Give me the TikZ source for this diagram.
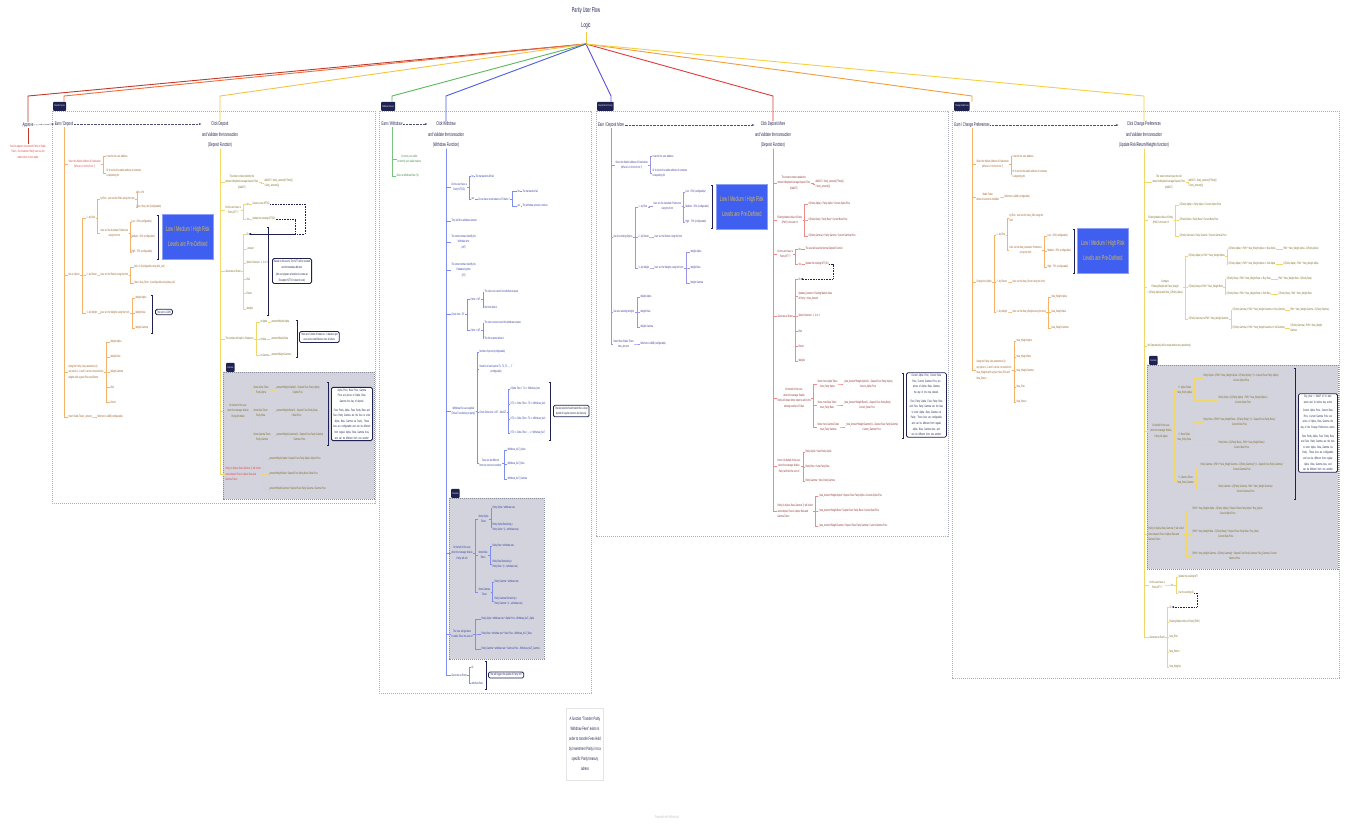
\documentclass[tikz,border=0pt]{standalone}
\usepackage{fontspec}
\setmainfont{Liberation Sans}[FakeStretch=0.55]
\usetikzlibrary{arrows.meta}
\definecolor{nv}{HTML}{1F2250}
\definecolor{orL}{HTML}{F6B26B}\definecolor{orT}{HTML}{9A5B22}
\definecolor{ylL}{HTML}{F1D66A}\definecolor{ylT}{HTML}{7A671C}
\definecolor{grL}{HTML}{7BC47F}\definecolor{grT}{HTML}{3C8A40}
\definecolor{blL}{HTML}{7F8CF2}\definecolor{blT}{HTML}{2F3C9E}
\definecolor{vtL}{HTML}{9B94E8}\definecolor{vtT}{HTML}{3D3A95}
\definecolor{rdL}{HTML}{F08A8A}\definecolor{rdT}{HTML}{8E2E2E}
\definecolor{redT}{HTML}{E0413F}
\definecolor{frm}{HTML}{A9AEC0}
\definecolor{ovf}{HTML}{D3D3DD}
\definecolor{bxf}{HTML}{3F5FF0}
\definecolor{bxt}{HTML}{D8B850}
\definecolor{f1}{HTML}{C0392B}\definecolor{f2}{HTML}{F26B3A}
\definecolor{f3}{HTML}{F4C542}\definecolor{f4}{HTML}{5CB85C}
\definecolor{f5}{HTML}{4A5CE0}\definecolor{f6}{HTML}{5B4FD6}
\definecolor{f7}{HTML}{E03A3A}\definecolor{f8}{HTML}{F39C3C}
\definecolor{f9}{HTML}{F4D03F}
\newcommand\fs{\fontsize{3.3}{5.6}\selectfont}
\newcommand\fh{\fontsize{5.3}{10.5}\selectfont}
\newcommand\lnk[3]{\draw[#1] (#2.east) -- ++(2,0) |- (#3.west);}
\newcommand\spn[3]{\draw[#1] (#2.south) |- (#3.west);}
\newcommand\mybr[3]{\draw[brk] (#1-1.5,#2) -- (#1,#2) -- (#1,#3) -- (#1-1.5,#3);}
\tikzset{
 tx/.style={font=\fs, inner sep=0.3pt, anchor=west, align=center},
 lf/.style={tx, align=left},
 hd/.style={font=\fh, text=nv, align=center, inner sep=0.5pt},
 frame/.style={draw=frm, line width=0.7pt, dash pattern=on 1.2pt off 0.8pt},
 ovbox/.style={fill=ovf, draw=frm!80!black, line width=0.6pt, dash pattern=on 1.2pt off 0.8pt},
 tab/.style={fill=nv, text=white, font=\fontsize{2.6}{3}\selectfont, inner sep=1.2pt, minimum height=9pt, rounded corners=0.8pt, anchor=south west},
 note/.style={draw=nv, line width=0.8pt, rounded corners=1.5pt, fill=white, font=\fs, text=nv, align=center, inner sep=1.5pt, anchor=west},
 bbox/.style={fill=bxf, draw=bxf!60!white, line width=0.6pt, text=bxt, font=\fontsize{7}{15}\selectfont, align=center, minimum width=51pt, minimum height=45pt, anchor=north west, inner sep=0pt},
 brk/.style={draw=nv, line width=0.5pt},
 dar/.style={draw=nv!80, line width=0.45pt, dash pattern=on 0.8pt off 0.6pt, -{Stealth[length=2.5pt,width=2pt]}},
 dn/.style={draw=nv, line width=0.5pt, dash pattern=on 1pt off 0.6pt, -{Stealth[length=2.5pt,width=2pt]}},
 fan/.style={line width=0.9pt},
 lo/.style={draw=orL, line width=0.5pt}, ly/.style={draw=ylL, line width=0.5pt},
 lg/.style={draw=grL, line width=0.5pt}, lb/.style={draw=blL, line width=0.5pt},
 lv/.style={draw=vtL, line width=0.5pt}, lr/.style={draw=rdL, line width=0.5pt},
 ot/.style={tx,text=orT}, ol/.style={lf,text=orT},
 yt/.style={tx,text=ylT}, yl/.style={lf,text=ylT},
 gt/.style={tx,text=grT},
 bt/.style={tx,text=blT}, bl/.style={lf,text=blT},
 vt/.style={tx,text=vtT}, vl/.style={lf,text=vtT},
 rt/.style={tx,text=rdT}, rl/.style={lf,text=rdT},
}
\begin{document}
\begin{tikzpicture}[x=1pt,y=-1pt]
\useasboundingbox[fill=white] (0,0) rectangle (1347,825);
% ---------- frames
\draw[frame] (52,111) rectangle (375,503);
\draw[frame] (379,111) rectangle (591,693);
\draw[frame] (596,111) rectangle (948,536);
\draw[frame] (952,111) rectangle (1339,678);
\draw[ovbox] (223,372) rectangle (374,499);
\draw[ovbox] (449,498) rectangle (544,659);
\draw[ovbox] (1147,365) rectangle (1338,569);
\node[tab] (tabD) at (53,111) {Deposit Process};
\node[tab] (tabW) at (381,111) {Withdraw Process};
\node[tab] (tabM) at (597,111) {Deposit More Process};
\node[tab] (tabC) at (954,111) {Change Preferences};
\node[tab] (ov1) at (226,372) {Overview};
\node[tab] (ov2) at (451,498) {Overview};
\node[tab] (ov4) at (1149,365) {Overview};
% ---------- title and headers
\node[font=\fontsize{7}{15}\selectfont, text=nv, align=center] (title) at (586,18) {Parity User Flow\\Logic};
\coordinate (apex) at (586,44);
\coordinate (lvl) at (0,96);
\node[hd] (app) at (28,125) {Approve};
\node[hd] (ed) at (64,124) {Earn / Deposit};
\node[hd] (cd) at (220,135) {Click Deposit\\and Validate the transaction\\(Deposit Function)};
\node[hd] (ew) at (392,124) {Earn / Withdraw};
\node[hd] (cw) at (446,135) {Click Withdraw\\and Validate the transaction\\(Withdraw Function)};
\node[hd] (em) at (611,125) {Earn / Deposit More};
\node[hd] (cm) at (773,135) {Click Deposit More\\and Validate the transaction\\(Deposit Function)};
\node[hd] (ec) at (972,125) {Earn / Change Preferences};
\node[hd] (cc) at (1144,135) {Click Change Preferences\\and Validate the transaction\\(Update Risk/Return/Weights function)};
% fan lines
\draw[fan,draw=f3] (title.south) -- (apex);
\draw[fan,draw=f1] (apex) -- (app.north |- lvl) -- (app.north);
\draw[fan,draw=f2] (apex) -- (ed.north |- lvl) -- (ed.north |- tabD.north);
\draw[fan,draw=f3] (apex) -- (cd.north |- lvl) -- (cd.north);
\draw[fan,draw=f4] (apex) -- (ew.north |- lvl) -- (ew.north |- tabW.north);
\draw[fan,draw=f5] (apex) -- (cw.north |- lvl) -- (cw.north);
\draw[fan,draw=f6] (apex) -- (em.north |- lvl) -- (em.north |- tabM.north);
\draw[fan,draw=f7] (apex) -- (cm.north |- lvl) -- (cm.north);
\draw[fan,draw=f8] (apex) -- (ec.north |- lvl) -- (ec.north |- tabC.north);
\draw[fan,draw=f9] (apex) -- (cc.north |- lvl) -- (cc.north);
% header arrows
\node[tx,text=redT,anchor=center] (appn) at (28,152) {Need to approve Investment Parity in Stable\\Token - So Investment Parity can use the\\stable token of your wallet};
\draw[draw=f1,line width=0.6pt] (app.south) -- (appn.north);
\draw[dar] (app.east) -- (ed.west);
\draw[dar] (ed.east) -- (ed.east -| cd.west);
\draw[dar] (ew.east) -- (ew.east -| cw.west);
\draw[dar] (em.east) -- (em.east -| cm.west);
\draw[dar] (ec.east) -- (ec.east -| cc.west);

% ================= DEPOSIT : left tree
\node[tx,text=redT] (s1) at (68,164) {Select the Wallet Address of Destination\\(Where is it for the front ?)};
\node[ol] (s1a) at (106,156) {It can be the user address};
\node[ol] (s1b) at (106,173) {Or It can be the wallet address of someone\\is depositing for};
\node[ot] (opt) at (68,275) {Set an Option};
\node[ot] (o1) at (86,218) {1 - by Risk};
\node[ot] (o2) at (86,275) {2 - by Return};
\node[ot] (o3) at (86,313) {3 - by Weight};
\node[ot] (o1a) at (100,199) {by Risk : user set the Risks using the front};
\node[ot] (o1b) at (100,233) {User set the Automatic Preference\\using the front};
\node[ol] (o1a1) at (136,192) {Min = 0\%};
\node[ol] (o1a2) at (136,207) {Max = Max\_risk (Configurable)};
\node[ol] (o1b1) at (131,222) {Low : 25\% (configurable)};
\node[ol] (o1b2) at (131,237) {Medium : 45\% (configurable)};
\node[ol] (o1b3) at (131,252) {High : 75\% (configurable)};
\node[ot] (o2a) at (100,275) {User set the Return using the front};
\node[ol] (o2a1) at (134,267) {Min = 0 (Configurable using Min\_risk)};
\node[ol] (o2a2) at (134,283) {Max = Max\_Risk + k (configurable using Max\_risk)};
\node[ot] (o3a) at (100,313) {User set the Weights using the front};
\node[ol] (o3a1) at (135,298) {Weight Alpha};
\node[ol] (o3a2) at (135,313) {Weight Beta};
\node[ol] (o3a3) at (135,328) {Weight Gamma};
\node[ol] (lam) at (68,372) {Using the Parity Line parameters (λ)\\any option 1, 2 and 3 can be converted into\\weights with a given Risk and Return};
\node[ol] (lam1) at (110,342) {Weight Alpha};
\node[ol] (lam2) at (110,357) {Weight Beta};
\node[ol] (lam3) at (110,372) {Weight Gamma};
\node[ol] (lam4) at (110,387) {Risk};
\node[ol] (lam5) at (110,402) {Return};
\node[ot] (ins) at (68,417) {Insert Stable Token \_amount};
\node[ol] (ins1) at (97,417) {Minimum is 100\$ (configurable)};
\foreach \c in {s1,opt,lam,ins} {\spn{lo}{ed}{\c}}
\foreach \c in {s1a,s1b} {\lnk{lo}{s1}{\c}}
\foreach \c in {o1,o2,o3} {\draw[lo] (opt.east) -- ++(2,0) |- (\c.west);}
\foreach \c in {o1a,o1b} {\lnk{lo}{o1}{\c}}
\foreach \c in {o1a1,o1a2} {\lnk{lo}{o1a}{\c}}
\foreach \c in {o1b1,o1b2,o1b3} {\lnk{lo}{o1b}{\c}}
\lnk{lo}{o2}{o2a}
\foreach \c in {o2a1,o2a2} {\lnk{lo}{o2a}{\c}}
\lnk{lo}{o3}{o3a}
\foreach \c in {o3a1,o3a2,o3a3} {\lnk{lo}{o3a}{\c}}
\foreach \c in {lam1,lam2,lam3,lam4,lam5} {\lnk{lo}{lam}{\c}}
\lnk{lo}{ins}{ins1}
\mybr{158}{215}{259}
\node[bbox] (bb1) at (162,214) {Low / Medium / High Risk\\Levels are Pre-Defined};
\mybr{152}{295}{333}
\node[note] (n100) at (155,312) {The sum is 100\%};

% ================= DEPOSIT : right tree
\node[yt] (c1) at (225,182) {The smart contract identify the\\Amount Weighted Average Deposit Time\\(AWADT)};
\node[yl] (c1a) at (264,183) {AWADT = Sum(\_amount(i)*Time(i))\\/ Sum(\_amount(i))};
\node[yt] (c2) at (225,210) {Do the user have a\\Parity NFT ?};
\node[yt] (c2a) at (246,204) {No};
\node[yt] (c2a2) at (252,204) {Create a new NFT(0)};
\node[yt] (c2b) at (246,219) {Yes};
\node[yt] (c2b2) at (252,219) {Update the existing NFT(ID)};
\node[yt] (c3) at (225,271) {Generate an Event};
\node[yl] (c3a) at (246,234) {ID};
\node[yl] (c3b) at (246,249) {\_amount};
\node[yl] (c3c) at (246,263) {Option Selected : 1, 2 or 3};
\node[yl] (c3d) at (246,279) {Risk};
\node[yl] (c3e) at (246,293) {Return};
\node[yl] (c3f) at (246,309) {Weights};
\node[yt] (c4) at (225,339) {The contract will split in 3 balances};
\node[yt] (c4a) at (260,322) {In Alpha};
\node[yt] (c4a2) at (270,322) {\_amount*Weight Alpha};
\node[yt] (c4b) at (260,339) {In Beta};
\node[yt] (c4b2) at (270,339) {\_amount*Weight Beta};
\node[yt] (c4c) at (260,355) {In Gamma};
\node[yt] (c4c2) at (270,355) {\_amount*Weight Gamma};
\node[yt] (c5) at (227,411) {On behalf of the user,\\when the manager finalize\\Parity will obtain};
\node[yt] (c5a) at (253,390) {Some Alpha Token\\Parity Alpha};
\node[yt] (c5a2) at (275,390) {\_amount*Weight Alpha*(1 - Deposit Fees Parity Alpha)\\/ Alpha Price};
\node[yt] (c5b) at (253,413) {Some Beta Token\\Parity Beta};
\node[yt] (c5b2) at (275,413) {\_amount*Weight Beta*(1 - Deposit Fees Parity Beta)\\/ Beta Price};
\node[yt] (c5c) at (253,437) {Some Gamma Token\\Parity Gamma};
\node[yt] (c5c2) at (275,437) {\_amount*Weight Gamma*(1 - Deposit Fees Parity Gamma)\\/ Gamma Price};
\node[tx,text=redT,align=left] (c6) at (225,474) {Parity (in Alpha, Beta, Gamma ?) will collect\\some deposit Fees in Alpha, Beta and\\Gamma Token};
\node[yl] (c6a) at (268,459) {\_amount*Weight Alpha * Deposit Fees Parity Alpha / Alpha Price};
\node[yl] (c6b) at (268,474) {\_amount*Weight Beta * Deposit Fees Parity Beta / Beta Price};
\node[yl] (c6c) at (268,489) {\_amount*Weight Gamma * Deposit Fees Parity Gamma / Gamma Price};
\foreach \c in {c1,c2,c3,c4,c5,c6} {\spn{ly}{cd}{\c}}
\lnk{ly}{c1}{c1a}
\foreach \c in {c2a,c2b} {\lnk{ly}{c2}{\c}}
\draw[ly] (c2a.east) -- (c2a2.west); \draw[ly] (c2b.east) -- (c2b2.west);
\foreach \c in {c3a,c3b,c3c,c3d,c3e,c3f} {\lnk{ly}{c3}{\c}}
\foreach \c in {c4a,c4b,c4c} {\lnk{ly}{c4}{\c}}
\draw[ly] (c4a.east) -- (c4a2.west); \draw[ly] (c4b.east) -- (c4b2.west); \draw[ly] (c4c.east) -- (c4c2.west);
\foreach \c in {c5a,c5b,c5c} {\lnk{ly}{c5}{\c}}
\lnk{ly}{c5a}{c5a2} \lnk{ly}{c5b}{c5b2} \lnk{ly}{c5c}{c5c2}
\foreach \c in {c6a,c6b,c6c} {\lnk{ly}{c6}{\c}}
\draw[dn] (c2a2.east) -- ++(35,0) |- (c3a.east);
\draw[dn] (c2b2.east) -- ++(20,0) |- (c3a.east);
\mybr{268}{227}{315}
\node[note] (nev) at (272,271) {Based on this event, The NFT will be created\\and its metadata affected.\\[2pt](We can prepare a function to create an\\Exception NFT if it doesn't exist)};
\mybr{297}{320}{357}
\node[note] (nbal) at (299,337) {There are 3 kinds of balances : A balance per\\user and a total Balance over all Users};
\mybr{328}{382}{445}
\node[note,text width=38pt] (npr) at (331,414) {Alpha Price, Beta Price, Gamma Price are prices of Alpha, Beta, Gamma the day of deposit.\\[3pt]Fees Parity Alpha, Fees Parity Beta and Fees Parity Gamma are the fees to enter Alpha, Beta, Gamma via Parity. Those fees are configurable and can be different from regular Alpha, Beta, Gamma fees, and can be different from one another};

% ================= WITHDRAW
\node[gt] (g1) at (397,159) {Connect your wallet\\to identify your wallet Indexes};
\node[gt] (g2) at (396,176) {Select a Withdraw Rate (\%)};
\foreach \c in {g1,g2} {\spn{lg}{ew}{\c}}
\node[bt] (w1) at (451,187) {Do the user have a\\Parity NFT(ID)};
\node[bt] (w1a) at (471,176) {No};
\node[bt] (w1a2) at (475,176) {The transaction will fail};
\node[bt] (w1b) at (471,199) {yes};
\node[bt] (w1b2) at (478,199) {Do we have some balance of Tokens ?};
\node[bt] (w1c) at (517,191) {No};
\node[bt] (w1c2) at (522,191) {The transaction fail};
\node[bt] (w1d) at (517,206) {yes};
\node[bt] (w1d2) at (522,206) {The withdraw process continue};
\node[bt] (w2) at (451,221) {They will fix a withdraw amount};
\node[bt] (w3) at (451,242) {The smart contract identify the\\Withdraw time\\(WT)};
\node[bt] (w4) at (451,270) {The smart contract identify the\\Rebalancing time\\(RT)};
\node[bt] (w5) at (451,314) {Check time - RT};
\node[bt] (w5a) at (470,299) {If time < WT};
\node[bl] (w5a1) at (484,292) {The User can cancel his withdraw request};
\node[bl] (w5a2) at (484,307) {the front allow it};
\node[bt] (w5b) at (470,330) {If time > WT};
\node[bl] (w5b1) at (484,323) {The User cannot cancel his withdraw request};
\node[bl] (w5b2) at (484,338) {The front cannot allow it};
\node[bt] (w6) at (451,411) {Withdraw Fees are applied\\(Those Fees belong to parity)};
\node[bl] (w6a) at (479,352) {Number of period (configurable)};
\node[bt] (w6b) at (479,369) {Duration of each period T1, T2, T3, ... , T\\(configurable)};
\node[bt] (w6c) at (479,412) {Check Delta time = WT - AWADT};
\node[bl] (w6c1) at (510,389) {If Delta Time < T1 => Withdraw\_fee1};
\node[bl] (w6c2) at (510,404) {If T1 <= Delta Time < T2 => Withdraw\_fee2};
\node[bl] (w6c3) at (510,419) {If T2 <= Delta Time < T3 => Withdraw\_fee3};
\node[bl] (w6c4) at (510,433) {If T3 <= Delta Time < ... => Withdraw\_feeT};
\node[bt] (w6d) at (479,463) {Fees can be different\\from one service to another};
\node[bl] (w6d1) at (507,450) {Withdraw\_feeT\_Alpha};
\node[bl] (w6d2) at (507,464) {Withdraw\_feeT\_Beta};
\node[bl] (w6d3) at (507,479) {Withdraw\_feeT\_Gamma};
\node[bt] (w7) at (451,553) {On behalf of the user,\\when the manager finalize\\Parity will sell};
\node[bt] (w7a) at (478,519) {Some Alpha\\Token};
\node[bl] (w7a1) at (492,508) {Parity Alpha * withdraw rate};
\node[bl] (w7a2) at (492,527) {Parity Alpha Remaining =\\Parity Alpha * (1 - withdraw rate)};
\node[bt] (w7b) at (478,555) {Some Beta\\Token};
\node[bl] (w7b1) at (492,546) {Parity Beta * withdraw rate};
\node[bl] (w7b2) at (492,564) {Parity Beta Remaining =\\Parity Beta * (1 - withdraw rate)};
\node[bt] (w7c) at (478,592) {Some Gamma\\Token};
\node[bl] (w7c1) at (494,582) {Parity Gamma * withdraw rate};
\node[bl] (w7c2) at (494,601) {Parity Gamma Remaining =\\Parity Gamma * (1 - withdraw rate)};
\node[bt] (w8) at (451,634) {The User will get back\\in stable Token the sum of};
\node[bl] (w8a) at (481,619) {Parity Alpha * withdraw rate * Alpha Price - Withdraw\_feeT\_Alpha};
\node[bl] (w8b) at (481,634) {Parity Beta * withdraw rate * Beta Price - Withdraw\_feeT\_Beta};
\node[bl] (w8c) at (481,649) {Parity Gamma * withdraw rate * Gamma Price - Withdraw\_feeT\_Gamma};
\node[bt] (w9) at (451,675) {Generate an Event};
\node[bl] (w9a) at (471,667) {ID};
\node[bl] (w9b) at (471,683) {withdraw Rate};
\foreach \c in {w1,w2,w3,w4,w5,w6,w7,w8,w9} {\spn{lb}{cw}{\c}}
\foreach \c in {w1a,w1b} {\lnk{lb}{w1}{\c}}
\draw[lb] (w1a.east) -- (w1a2.west); \draw[lb] (w1b.east) -- (w1b2.west);
\foreach \c in {w1c,w1d} {\lnk{lb}{w1b2}{\c}}
\draw[lb] (w1c.east) -- (w1c2.west); \draw[lb] (w1d.east) -- (w1d2.west);
\foreach \c in {w5a,w5b} {\lnk{lb}{w5}{\c}}
\foreach \c in {w5a1,w5a2} {\lnk{lb}{w5a}{\c}}
\foreach \c in {w5b1,w5b2} {\lnk{lb}{w5b}{\c}}
\foreach \c in {w6a,w6b,w6c,w6d} {\lnk{lb}{w6}{\c}}
\foreach \c in {w6c1,w6c2,w6c3,w6c4} {\lnk{lb}{w6c}{\c}}
\foreach \c in {w6d1,w6d2,w6d3} {\lnk{lb}{w6d}{\c}}
\foreach \c in {w7a,w7b,w7c} {\lnk{lb}{w7}{\c}}
\foreach \c in {w7a1,w7a2} {\lnk{lb}{w7a}{\c}}
\foreach \c in {w7b1,w7b2} {\lnk{lb}{w7b}{\c}}
\foreach \c in {w7c1,w7c2} {\lnk{lb}{w7c}{\c}}
\foreach \c in {w8a,w8b,w8c} {\lnk{lb}{w8}{\c}}
\foreach \c in {w9a,w9b} {\lnk{lb}{w9}{\c}}
\mybr{550}{382}{440}
\node[note] (nlock) at (553,411) {The last period should match the Lockup\\period of regular services (to discuss)};
\mybr{486}{661}{689}
\node[note] (nupd) at (488,675) {This will trigger the update of Parity NFT};

% ================= DEPOSIT MORE : left
\node[vt] (m1) at (615,165) {Select the Wallet Address of Destination\\(Where is it for the front ?)};
\node[vl] (m1a) at (652,156) {It can be the user address};
\node[vl] (m1b) at (652,173) {Or It can be the wallet address of someone\\is depositing for};
\node[vt] (m2) at (613,237) {Use the existing Option};
\node[vt] (m2a) at (638,207) {1 - by Risk};
\node[vt] (m2a1) at (653,206) {User set the Automatic Preference\\using the front};
\node[vl] (m2a11) at (685,192) {Low : 25\% (configurable)};
\node[vl] (m2a12) at (685,207) {Medium : 45\% (configurable)};
\node[vl] (m2a13) at (685,222) {High : 75\% (configurable)};
\node[vt] (m2b) at (638,237) {2 - by Return};
\node[vt] (m2b1) at (654,237) {User set the Return using the front};
\node[vt] (m2c) at (638,268) {3 - by Weight};
\node[vt] (m2c1) at (654,268) {User set the Weights using the front};
\node[vl] (m2c11) at (690,252) {Weight Alpha};
\node[vl] (m2c12) at (690,268) {Weight Beta};
\node[vl] (m2c13) at (690,283) {Weight Gamma};
\node[vt] (m3) at (613,312) {Use also existing Weights};
\node[vl] (m3a) at (640,297) {Weight Alpha};
\node[vl] (m3b) at (640,312) {Weight Beta};
\node[vl] (m3c) at (640,327) {Weight Gamma};
\node[vt] (m4) at (613,344) {Insert More Stable Token\\New\_Amount};
\node[vl] (m4a) at (640,344) {Minimum is 100\$ (configurable)};
\foreach \c in {m1,m2,m3,m4} {\spn{lv}{em}{\c}}
\foreach \c in {m1a,m1b} {\lnk{lv}{m1}{\c}}
\foreach \c in {m2a,m2b,m2c} {\lnk{lv}{m2}{\c}}
\lnk{lv}{m2a}{m2a1} \lnk{lv}{m2b}{m2b1} \lnk{lv}{m2c}{m2c1}
\foreach \c in {m2a11,m2a12,m2a13} {\lnk{lv}{m2a1}{\c}}
\foreach \c in {m2c11,m2c12,m2c13} {\lnk{lv}{m2c1}{\c}}
\foreach \c in {m3a,m3b,m3c} {\lnk{lv}{m3}{\c}}
\lnk{lv}{m4}{m4a}
\mybr{712}{185}{228}
\node[bbox] (bb2) at (716,184) {Low / Medium / High Risk\\Levels are Pre-Defined};

% ================= DEPOSIT MORE : right
\node[rt] (r1) at (777,183) {The smart contract update the\\Amount Weighted Average Deposit Time\\(AWADT)};
\node[rl] (r1a) at (815,184) {AWADT = Sum(\_amount(i)*Time(i))\\/ Sum(\_amount(i))};
\node[rt] (r2) at (777,220) {Existing Market Value of Parity\\(PMV) is the sum of};
\node[rl] (r2a) at (808,204) {C(Parity Alpha) = Parity Alpha * Current Alpha Price};
\node[rl] (r2b) at (808,220) {C(Parity Beta) = Parity Beta * Current Beta Price};
\node[rl] (r2c) at (808,236) {C(Parity Gamma) = Parity Gamma * Current Gamma Price};
\node[rt] (r3) at (777,254) {Do the user have a\\Parity NFT ?};
\node[rt] (r3a) at (798,249) {No};
\node[rl] (r3a2) at (805,249) {The user will use the Normal Deposit Function};
\node[rt] (r3b) at (798,264) {Yes};
\node[rl] (r3b2) at (805,264) {Update the existing NFT (ID)};
\node[rt] (r4) at (777,316) {Generate an Event};
\node[rl] (r4a) at (798,279) {ID};
\node[rl] (r4b) at (798,296) {Updated\_Amount = Existing Market Value\\of Parity + New\_Amount};
\node[rl] (r4c) at (798,316) {Option Selected : 1, 2 or 3};
\node[rl] (r4d) at (798,331) {Risk};
\node[rl] (r4e) at (798,346) {Return};
\node[rl] (r4f) at (798,361) {Weights};
\node[rt] (r5) at (777,398) {On behalf of the user,\\when the manager finalize\\Parity will obtain More token to add to the\\existing number of Token};
\node[rt] (r5a) at (817,384) {Some more Alpha Token\\New\_Parity Alpha};
\node[rt] (r5a2) at (843,384) {\_New\_Amount*Weight Alpha*(1 - Deposit Fees Parity Alpha)\\Current\_Alpha Price};
\node[rt] (r5b) at (817,405) {Some more Beta Token\\New\_Parity Beta};
\node[rt] (r5b2) at (843,405) {\_New\_Amount*Weight Beta*(1 - Deposit Fees Parity Beta)\\Current\_Beta Price};
\node[rt] (r5c) at (817,427) {Some more Gamma Token\\New\_Parity Gamma};
\node[rt] (r5c2) at (845,427) {\_New\_Amount*Weight Gamma*(1 - Deposit Fees Parity Gamma)\\Current\_Gamma Price};
\node[rt] (r6) at (777,466) {Hence On behalf of the user,\\when the manager finalize\\Parity will hold the sum of};
\node[rl] (r6a) at (805,452) {Parity Alpha + New Parity Alpha};
\node[rl] (r6b) at (805,467) {Parity Beta + New Parity Beta};
\node[rl] (r6c) at (805,481) {Parity Gamma + New Parity Gamma};
\node[rl] (r7) at (777,511) {Parity (in Alpha, Beta, Gamma ?) will collect\\some deposit Fees in Alpha, Beta and\\Gamma Token};
\node[rl] (r7a) at (818,496) {\_New\_Amount*Weight Alpha * Deposit Fees Parity Alpha / Current Alpha Price};
\node[rl] (r7b) at (818,511) {\_New\_Amount*Weight Beta * Deposit Fees Parity Beta / Current Beta Price};
\node[rl] (r7c) at (818,526) {\_New\_Amount*Weight Gamma * Deposit Fees Parity Gamma / Current Gamma Price};
\foreach \c in {r1,r2,r3,r4,r5,r6,r7} {\spn{lr}{cm}{\c}}
\lnk{lr}{r1}{r1a}
\foreach \c in {r2a,r2b,r2c} {\lnk{lr}{r2}{\c}}
\foreach \c in {r3a,r3b} {\lnk{lr}{r3}{\c}}
\draw[lr] (r3a.east) -- (r3a2.west); \draw[lr] (r3b.east) -- (r3b2.west);
\foreach \c in {r4a,r4b,r4c,r4d,r4e,r4f} {\lnk{lr}{r4}{\c}}
\foreach \c in {r5a,r5b,r5c} {\lnk{lr}{r5}{\c}}
\lnk{lr}{r5a}{r5a2} \lnk{lr}{r5b}{r5b2} \lnk{lr}{r5c}{r5c2}
\foreach \c in {r6a,r6b,r6c} {\lnk{lr}{r6}{\c}}
\foreach \c in {r7a,r7b,r7c} {\lnk{lr}{r7}{\c}}
\draw[dn] (r3b2.east) -- ++(4,0) |- (r4a.east);
\mybr{903}{373}{438}
\node[note,text width=37pt] (npr2) at (906,405) {Current Alpha Price, Current Beta Price, Current Gamma Price are prices of Alpha, Beta, Gamma the day of the new deposit.\\[3pt]Fees Parity Alpha, Fees Parity Beta and Fees Parity Gamma are the fees to enter Alpha, Beta, Gamma via Parity. Those fees are configurable and can be different from regular Alpha, Beta, Gamma fees, and can be different from one another};

% ================= CHANGE PREFERENCES : left
\node[ot] (p1) at (976,164) {Select the Wallet Address of Destination\\(Where is it for the front ?)};
\node[ol] (p1a) at (1012,156) {It can be the user address};
\node[ol] (p1b) at (1012,174) {Or It can be the wallet address of someone\\is depositing for};
\node[ot] (p2) at (976,197) {Stable Token\\Amount Cannot be modified};
\node[ol] (p2a) at (1004,197) {Minimum is 100\$ (configurable)};
\node[ot] (p3) at (976,282) {Change the Option};
\node[ot] (p3a) at (996,235) {1 - by Risk};
\node[ol] (p3a1) at (1009,218) {by Risk : user set the New\_Risk using the\\front};
\node[ot] (p3a2) at (1009,250) {User set the New\_Automatic Preference\\using the front};
\node[ol] (p3a21) at (1047,236) {Low : 25\% (configurable)};
\node[ol] (p3a22) at (1047,251) {Medium : 45\% (configurable)};
\node[ol] (p3a23) at (1047,267) {High : 75\% (configurable)};
\node[ot] (p3b) at (996,282) {2 - by Return};
\node[ot] (p3b1) at (1012,282) {User set the New\_Return using the front};
\node[ot] (p3c) at (996,312) {3 - by Weight};
\node[ot] (p3c1) at (1012,312) {User set the New\_Weights using the front};
\node[ol] (p3c11) at (1051,297) {New\_Weight Alpha};
\node[ol] (p3c12) at (1051,312) {New\_Weight Beta};
\node[ol] (p3c13) at (1051,328) {New\_Weight Gamma};
\node[ol] (p4) at (976,370) {Using the Parity Line parameters (λ)\\any option 1, 2 and 3 can be converted into\\New\_Weights with a given New\_Risk and\\New\_Return};
\node[ol] (p4a) at (1016,341) {New\_Weight Alpha};
\node[ol] (p4b) at (1016,357) {New\_Weight Beta};
\node[ol] (p4c) at (1016,371) {New\_Weight Gamma};
\node[ol] (p4d) at (1016,387) {New\_Risk};
\node[ol] (p4e) at (1016,402) {New\_Return};
\foreach \c in {p1,p2,p3,p4} {\spn{lo}{ec}{\c}}
\foreach \c in {p1a,p1b} {\lnk{lo}{p1}{\c}}
\lnk{lo}{p2}{p2a}
\foreach \c in {p3a,p3b,p3c} {\lnk{lo}{p3}{\c}}
\foreach \c in {p3a1,p3a2} {\lnk{lo}{p3a}{\c}}
\foreach \c in {p3a21,p3a22,p3a23} {\lnk{lo}{p3a2}{\c}}
\lnk{lo}{p3b}{p3b1} \lnk{lo}{p3c}{p3c1}
\foreach \c in {p3c11,p3c12,p3c13} {\lnk{lo}{p3c1}{\c}}
\foreach \c in {p4a,p4b,p4c,p4d,p4e} {\lnk{lo}{p4}{\c}}
\mybr{1074}{229}{273}
\node[bbox] (bb3) at (1077,228) {Low / Medium / High Risk\\Levels are Pre-Defined};

% ================= CHANGE PREFERENCES : right
\node[yt] (q1) at (1152,182) {The smart contract keep the old\\Amount Weighted Average Deposit Time\\(AWADT)};
\node[yl] (q1a) at (1188,183) {AWADT = Sum(\_amount(i)*Time(i))\\/ Sum(\_amount(i))};
\node[yt] (q2) at (1148,220) {Existing Market Value of Parity\\(PMV) is the sum of};
\node[yl] (q2a) at (1179,205) {C(Parity Alpha) = Parity Alpha * Current Alpha Price};
\node[yl] (q2b) at (1179,220) {C(Parity Beta) = Parity Beta * Current Beta Price};
\node[yl] (q2c) at (1179,236) {C(Parity Gamma) = Parity Gamma * Current Gamma Price};
\node[yt] (q3) at (1147,287) {Compare\\Existing Weight with New\_Weight\\= C(Parity Alpha) with New\_C(Parity Alpha)};
\node[yt] (q3a) at (1188,256) {C(Parity Alpha) vs PMV * New\_Weight Alpha};
\node[yl] (q3a1) at (1228,249) {C(Parity Alpha) < PMV * New\_Weight Alpha => Buy Alpha};
\node[yl] (q3a11) at (1283,249) {PMV * New\_Weight Alpha - C(Parity Alpha)};
\node[yl] (q3a2) at (1228,264) {C(Parity Alpha) > PMV * New\_Weight Alpha => Sell Alpha};
\node[yl] (q3a21) at (1283,264) {C(Parity Alpha) - PMV * New\_Weight Alpha};
\node[yt] (q3b) at (1188,287) {C(Parity Beta) vs PMV * New\_Weight Beta};
\node[yl] (q3b1) at (1226,279) {C(Parity Beta) < PMV * New\_Weight Beta => Buy Beta};
\node[yl] (q3b11) at (1278,279) {PMV * New\_Weight Beta - C(Parity Beta)};
\node[yl] (q3b2) at (1226,294) {C(Parity Beta) > PMV * New\_Weight Beta => Sell Beta};
\node[yl] (q3b21) at (1278,294) {C(Parity Beta) - PMV * New\_Weight Beta};
\node[yt] (q3c) at (1188,319) {C(Parity Gamma) vs PMV * New\_Weight Gamma};
\node[yl] (q3c1) at (1232,310) {C(Parity Gamma) < PMV * New\_Weight Gamma => Buy Gamma};
\node[yl] (q3c11) at (1290,310) {PMV * New\_Weight Gamma - C(Parity Gamma)};
\node[yl] (q3c2) at (1232,328) {C(Parity Gamma) > PMV * New\_Weight Gamma => Sell Gamma};
\node[yl] (q3c21) at (1290,328) {C(Parity Gamma) - PMV * New\_Weight\\Gamma};
\node[yt] (q4) at (1147,346) {Sell Operation(s) will be made before buy operation(s)};
\node[yt] (q5) at (1150,431) {On behalf of the user,\\when the manager finalize\\Parity will adjust};
\node[yt] (q5a) at (1177,390) {+/- Alpha Token\\New\_Parity Alpha};
\node[yt] (q5a1) at (1203,378) {Parity Alpha = (PMV * New\_Weight Alpha - C(Parity Alpha)) * (1 - Deposit Fees Parity Alpha) /\\Current Alpha Price};
\node[yt] (q5a2) at (1218,400) {Parity Alpha = (C(Parity Alpha) - PMV * New\_Weight Alpha) /\\Current Alpha Price};
\node[yt] (q5b) at (1177,437) {+/- Beta Token\\New\_Parity Beta};
\node[yt] (q5b1) at (1203,422) {Parity Beta = (PMV * New\_Weight Beta - C(Parity Beta)) * (1 - Deposit Fees Parity Beta) /\\Current Beta Price};
\node[yt] (q5b2) at (1218,445) {Parity Beta = (C(Parity Beta) - PMV * New\_Weight Beta) /\\Current Beta Price};
\node[yt] (q5c) at (1177,480) {+/- Gamma Token\\New\_Parity Gamma};
\node[yt] (q5c1) at (1200,467) {Parity Gamma = (PMV * New\_Weight Gamma - C(Parity Gamma)) * (1 - Deposit Fees Parity Gamma) /\\Current Gamma Price};
\node[yt] (q5c2) at (1218,489) {Parity Gamma = (C(Parity Gamma) - PMV * New\_Weight Gamma) /\\Current Gamma Price};
\node[yl] (q6) at (1148,534) {Parity (in Alpha, Beta, Gamma ?) will collect\\some deposit Fees in Alpha, Beta and\\Gamma Token};
\node[yt] (q6a) at (1192,511) {(PMV * New\_Weight Alpha - C(Parity Alpha)) * Deposit Fees Parity Alpha * Buy\_Alpha /\\Current Alpha Price};
\node[yt] (q6b) at (1192,534) {(PMV * New\_Weight Beta - C(Parity Beta)) * Deposit Fees Parity Beta * Buy\_Beta /\\Current Beta Price};
\node[yt] (q6c) at (1192,556) {(PMV * New\_Weight Gamma - C(Parity Gamma)) * Deposit Fees Parity Gamma * Buy\_Gamma / Current\\Gamma Price};
\node[yt] (q7) at (1149,585) {Do the user have a\\Parity NFT ?};
\node[yt] (q7a) at (1170,585) {Yes};
\node[yl] (q7a1) at (1178,577) {Update the existing NFT};
\node[yl] (q7a2) at (1178,593) {Use the existing ID};
\node[yt] (q8) at (1149,637) {Generate an Event};
\node[yl] (q8a) at (1169,607) {ID};
\node[yl] (q8b) at (1169,622) {Existing Market Value of Parity (PMV)};
\node[yl] (q8c) at (1169,637) {New\_Risk};
\node[yl] (q8d) at (1169,652) {New\_Return};
\node[yl] (q8e) at (1169,667) {New\_Weights};
\foreach \c in {q1,q2,q3,q4,q5,q6,q7,q8} {\spn{ly}{cc}{\c}}
\lnk{ly}{q1}{q1a}
\foreach \c in {q2a,q2b,q2c} {\lnk{ly}{q2}{\c}}
\foreach \c in {q3a,q3b,q3c} {\lnk{ly}{q3}{\c}}
\foreach \c in {q3a1,q3a2} {\lnk{ly}{q3a}{\c}}
\foreach \c in {q3b1,q3b2} {\lnk{ly}{q3b}{\c}}
\foreach \c in {q3c1,q3c2} {\lnk{ly}{q3c}{\c}}
\draw[ly] (q3a1.east) -- (q3a11.west); \draw[ly] (q3a2.east) -- (q3a21.west);
\draw[ly] (q3b1.east) -- (q3b11.west); \draw[ly] (q3b2.east) -- (q3b21.west);
\draw[ly] (q3c1.east) -- (q3c11.west); \draw[ly] (q3c2.east) -- (q3c21.west);
\foreach \c in {q5a,q5b,q5c} {\lnk{ly}{q5}{\c}}
\foreach \c in {q5a1,q5a2} {\lnk{ly}{q5a}{\c}}
\foreach \c in {q5b1,q5b2} {\lnk{ly}{q5b}{\c}}
\foreach \c in {q5c1,q5c2} {\lnk{ly}{q5c}{\c}}
\foreach \c in {q6a,q6b,q6c} {\lnk{ly}{q6}{\c}}
\lnk{ly}{q7}{q7a}
\foreach \c in {q7a1,q7a2} {\lnk{ly}{q7a}{\c}}
\foreach \c in {q8a,q8b,q8c,q8d,q8e} {\lnk{ly}{q8}{\c}}
\draw[dn] (q7a2.east) -- ++(3,0) |- (q8a.east);
\mybr{1295}{368}{499}
\node[note,text width=36pt] (npr4) at (1298,433) {Buy price = VWAP of 1h after action and 1h before buy action\\[3pt]Current Alpha Price, Current Beta Price, Current Gamma Price are prices of Alpha, Beta, Gamma the day of the Change Preferences action.\\[3pt]Fees Parity Alpha, Fees Parity Beta and Fees Parity Gamma are the fees to enter Alpha, Beta, Gamma via Parity. Those fees are configurable and can be different from regular Alpha, Beta, Gamma fees, and can be different from one another};

% ================= bottom notes
\node[draw=gray!20, fill=white, font=\fontsize{4.8}{10}\selectfont, text=nv, align=center, inner sep=2pt, minimum width=37pt, minimum height=72pt] (fn) at (585,744) {A function "Transfer Parity\\Withdraw Fees" exists in\\order to transfer Fees Hold\\by Investment Parity in to a\\specific Parity treasury\\adress};
\node[font=\fontsize{4}{5}\selectfont, text=gray!45] (wm) at (667,817) {Prepared with Whimsical};
\end{tikzpicture}
\end{document}
